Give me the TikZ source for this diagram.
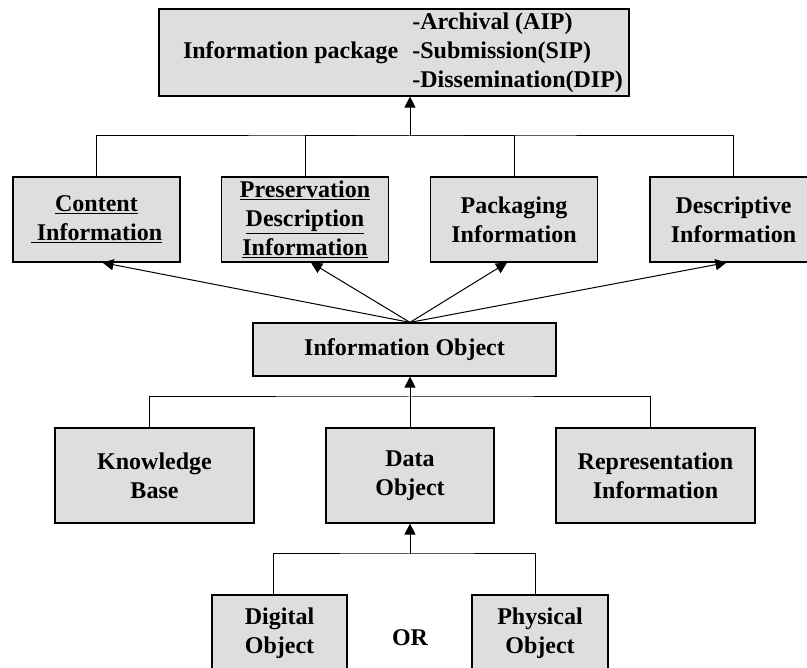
\documentclass[tikz,border=0pt]{standalone}
\usepackage{fontspec}
\setmainfont{Liberation Serif}
\usetikzlibrary{arrows.meta}
\tikzset{>={Triangle[length=11pt,width=11pt]}}
\tikzset{box/.style={draw, line width=1.2pt, fill=black!13, align=center, inner sep=0pt,
  font=\fontsize{24}{29}\selectfont\bfseries}}

\begin{document}
\begin{tikzpicture}[x=1pt, y=-1pt, line width=1pt]
\useasboundingbox (0,0) rectangle (807,668);
\clip (0,0) rectangle (807,668);
% package
\node[box, minimum width=470pt, minimum height=84pt] (ip) at (394,52.5)
{\begin{tabular}{@{\hspace{18pt}}l@{\hspace{14pt}}l@{}}
 & -Archival (AIP)\\
 Information package & -Submission(SIP)\\
 & -Dissemination(DIP)
\end{tabular}};
% four kinds of information
\node[box, minimum width=167pt, minimum height=85pt] (ci) at (96.5,219.5)
{\underline{Content}\\\underline{~Information}};
\node[box, minimum width=167pt, minimum height=85pt] (pdi) at (305,219.5)
{\underline{Preservation}\\\underline{Description}\\\underline{Information}};
\node[box, minimum width=167pt, minimum height=85pt] (pki) at (514,219.5)
{Packaging\\Information};
\node[box, minimum width=167pt, minimum height=85pt] (dsi) at (733.5,219.5)
{Descriptive\\Information};
% object
\node[box, minimum width=303pt, minimum height=53pt] (io) at (404.5,349.5)
{Information Object};
\node[box, minimum width=199pt, minimum height=95pt] (kb) at (154.5,475.5)
{Knowledge\\Base};
\node[box, minimum width=168pt, minimum height=95pt] (do) at (410,475.5)
{Data\\Object};
\node[box, minimum width=199pt, minimum height=95pt] (ri) at (655.5,475.5)
{Representation\\Information};
\node[box, minimum width=135pt, minimum height=77pt] (dig) at (279.5,633.5)
{Digital\\Object};
\node[box, minimum width=136pt, minimum height=77pt] (phy) at (540,633.5)
{Physical\\Object};
\node[font=\fontsize{24}{29}\selectfont\bfseries] (or) at (410,638) {OR};

\coordinate (b1) at (410,136);
\coordinate (b2) at (410,397);
\coordinate (b3) at (410,554);

\draw (ci.north) |- (b1) -| (dsi.north);
\draw (pdi.north) |- (b1) -| (pki.north);
\draw[->] (b1) -- (b1 |- ip.south);

\path[->] (io.north -| b2)
edge ([xshift=6pt]ci.south)
edge ([xshift=6pt]pdi.south)
edge ([xshift=-7pt]pki.south)
edge ([xshift=-7pt]dsi.south);

\draw ([xshift=-5pt]kb.north) |- (b2) -| ([xshift=-5pt]ri.north);
\draw[->] (do.north) -- (do.north |- io.south);
\draw ([xshift=-6pt]dig.north) |- (b3) -| ([xshift=-5pt]phy.north);
\draw[->] (b3) -- (do.south);
\end{tikzpicture}
\end{document}
